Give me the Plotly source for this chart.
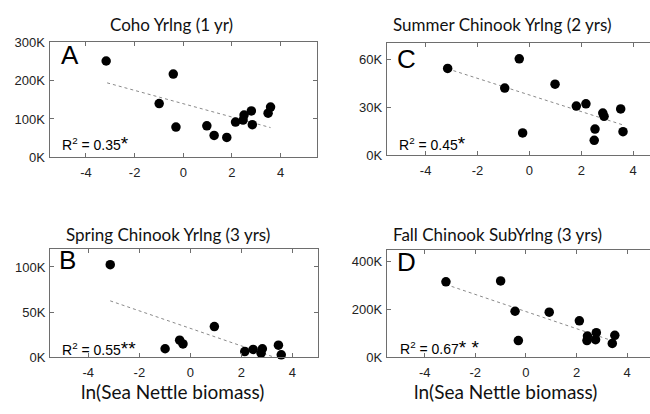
import plotly.graph_objects as go

# ---------------- data ----------------
# Panel A: Coho Yrlng (1 yr)
coho_x = [-3.17, -0.99, -0.41, -0.30, 0.97, 1.27, 1.79, 2.15, 2.46, 2.50, 2.80, 2.84, 3.49, 3.59]
coho_y = [251000, 140000, 217000, 79000, 82000, 57000, 52000, 92000, 97000, 110000, 121000, 85000, 115000, 131000]
coho_trend_x = [-3.13, 3.59]
coho_trend_y = [194000, 77500]

# Panel C: Summer Chinook Yrlng (2 yrs)
summer_x = [-3.15, -0.95, -0.39, -0.26, 0.99, 1.81, 2.18, 2.50, 2.53, 2.83, 2.88, 3.52, 3.61]
summer_y = [54200, 42000, 60200, 14000, 44400, 30800, 32200, 9400, 16400, 26400, 24400, 29000, 14800]
summer_trend_x = [-3.15, 3.61]
summer_trend_y = [54000, 19000]

# Panel B: Spring Chinook Yrlng (3 yrs)
spring_x = [-3.14, -0.99, -0.42, -0.29, 0.94, 2.13, 2.46, 2.77, 2.82, 3.45, 3.56]
spring_y = [102500, 9500, 19000, 14800, 34000, 6400, 8800, 4600, 9500, 13400, 2800]
spring_trend_x = [-3.14, 3.56]
spring_trend_y = [62500, -2500]

# Panel D: Fall Chinook SubYrlng (3 yrs)
fall_x = [-3.16, -1.00, -0.43, -0.30, 0.92, 2.11, 2.43, 2.41, 2.78, 2.75, 3.41, 3.51]
fall_y = [316000, 320000, 193000, 70000, 189000, 153000, 89000, 70000, 103000, 74000, 58000, 92000]
fall_trend_x = [-3.16, 3.45]
fall_trend_y = [305000, 68000]

x_tickvals = [-4, -2, 0, 2, 4]
x_ticktext = ["-4", "-2", "0", "2", "4"]

panel_titles = ["Coho Yrlng (1 yr)", "Summer Chinook Yrlng (2 yrs)",
                "Spring Chinook Yrlng (3 yrs)", "Fall Chinook SubYrlng (3 yrs)"]
panel_letters = ["A", "C", "B", "D"]
r2_values = ["0.35", "0.45", "0.55", "0.67"]
r2_stars = ["*", "*", "**", "* *"]

y_ticks = [
    ([0, 100000, 200000, 300000], ["0K", "100K", "200K", "300K"], [0, 300000]),
    ([0, 30000, 60000], ["0K", "30K", "60K"], [0, 70000]),
    ([0, 50000, 100000], ["0K", "50K", "100K"], [0, 120000]),
    ([0, 200000, 400000], ["0K", "200K", "400K"], [0, 450000]),
]
x_ranges = [[-5.5, 5.5], [-5.5, 4.65], [-5.5, 5.0], [-5.5, 4.9]]

series = [
    (coho_x, coho_y, coho_trend_x, coho_trend_y),
    (summer_x, summer_y, summer_trend_x, summer_trend_y),
    (spring_x, spring_y, spring_trend_x, spring_trend_y),
    (fall_x, fall_y, fall_trend_x, fall_trend_y),
]

# ---------------- layout geometry (pixels) ----------------
W, H = 650, 414
# (left, right, top, bottom) in px
boxes = [
    (49.5, 317, 36.5, 156),
    (386.7, 650, 37.5, 154),
    (50, 318, 251, 363.5),
    (386.7, 650, 252, 363.5),
]

def px(x):
    return x / W

def py(y):
    return 1 - y / H

fig = go.Figure()
axis_color = "#6e6e6e"
tick_font = dict(family="Liberation Sans, Arial, sans-serif", size=13, color="#222")

layout = dict(
    width=W, height=H,
    margin=dict(l=0, r=0, t=0, b=0),
    paper_bgcolor="white", plot_bgcolor="white",
    showlegend=False,
    annotations=[],
)

for i, (sx, sy, tx, ty) in enumerate(series):
    n = "" if i == 0 else str(i + 1)
    xa, ya = "x" + n, "y" + n
    fig.add_trace(go.Scatter(x=tx, y=ty, mode="lines", xaxis=xa, yaxis=ya,
                             line=dict(color="#8a8a8a", width=1, dash="dot"),
                             hoverinfo="skip"))
    fig.add_trace(go.Scatter(x=sx, y=sy, mode="markers", xaxis=xa, yaxis=ya,
                             marker=dict(color="black", size=9.5),
                             cliponaxis=False))
    l, r, t, b = boxes[i]
    right_panel = i in (1, 3)
    layout["xaxis" + n] = dict(
        domain=[px(l), px(r)], anchor=ya, range=x_ranges[i],
        tickvals=x_tickvals, ticktext=x_ticktext,
        ticks="inside", ticklen=4, tickcolor=axis_color, tickwidth=1,
        showline=True, linecolor=axis_color, linewidth=1,
        mirror="ticks", showgrid=False, zeroline=False,
        tickfont=tick_font, ticklabelstandoff=3,
    )
    yv, yt, yr = y_ticks[i]
    layout["yaxis" + n] = dict(
        domain=[py(b), py(t)], anchor=xa, range=yr,
        tickvals=yv, ticktext=yt,
        ticks="inside", ticklen=4, tickcolor=axis_color, tickwidth=1,
        showline=True, linecolor=axis_color, linewidth=1,
        mirror=False if right_panel else "ticks",
        showgrid=False, zeroline=False,
        tickfont=tick_font, ticklabelstandoff=1,
    )

anns = layout["annotations"]
title_pos = [(171, 18), (502, 18), (168, 236), (497, 236)]
for (cx, cy), txt in zip(title_pos, panel_titles):
    anns.append(dict(text=txt, x=px(cx), y=py(cy), xref="paper", yref="paper",
                     xanchor="center", yanchor="middle", showarrow=False,
                     font=dict(family="Lato, Open Sans, sans-serif", size=17, color="#111")))

letter_pos = [(59, 49.5), (395, 54), (57, 263), (395, 265)]
for (lx, ly), txt in zip(letter_pos, panel_letters):
    anns.append(dict(text=txt, x=px(lx), y=py(ly), xref="paper", yref="paper",
                     xanchor="left", yanchor="middle", showarrow=False,
                     font=dict(family="Liberation Sans, Arial, sans-serif", size=26, color="black")))

r2_pos = [(60, 155), (397, 155), (60, 367), (398, 366)]
for (rx, ry), val, star in zip(r2_pos, r2_values, r2_stars):
    txt = ("R<sup>2</sup> = " + val +
           "<span style='font-size:19px'>" + star + "</span>")
    anns.append(dict(text=txt, x=px(rx), y=py(ry), xref="paper", yref="paper",
                     xanchor="left", yanchor="bottom", showarrow=False,
                     font=dict(family="Liberation Sans, Arial, sans-serif", size=14, color="black")))

for cx in (172, 505):
    anns.append(dict(text="ln(Sea Nettle biomass)", x=px(cx), y=py(399), xref="paper", yref="paper",
                     xanchor="center", yanchor="middle", showarrow=False,
                     font=dict(family="Lato, Open Sans, sans-serif", size=19, color="#111")))

fig.update_layout(**layout)
fig.write_html("out.html", config={"displayModeBar": False},
               post_script="document.body.style.margin='0';document.body.style.overflow='hidden';")
